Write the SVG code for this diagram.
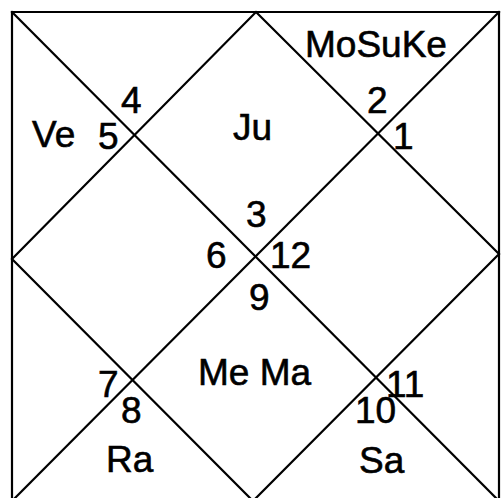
<svg xmlns="http://www.w3.org/2000/svg" width="501" height="498" viewBox="0 0 501 498">
<style>
.ln{stroke:#000;stroke-width:2.2;fill:none;stroke-linecap:square}
text{font-family:"Liberation Sans",Arial,sans-serif;font-size:37px;fill:#000;stroke:#000;stroke-width:0.6}
</style>
<rect width="501" height="498" fill="#fff"/>
<g id="connectors">
<polygon class="ln" points="12,12 499,12 499,501 12,501"/>
<line class="ln" x1="12" y1="12" x2="499" y2="501"/>
<line class="ln" x1="499" y1="12" x2="12" y2="501"/>
<polygon class="ln" points="256,12 499,254 253,501 12,259"/>
</g>
<g id="house1"><text x="393" y="149">1</text></g>
<g id="house2"><text x="367" y="113">2</text><text x="305" y="57">MoSuKe</text></g>
<g id="house3"><text x="246" y="227">3</text><text x="233" y="140">Ju</text></g>
<g id="house4"><text x="121" y="113">4</text></g>
<g id="house5"><text x="98" y="149">5</text><text x="32" y="147">Ve</text></g>
<g id="house6"><text x="206" y="268">6</text></g>
<g id="house7"><text x="98" y="397">7</text></g>
<g id="house8"><text x="121" y="423">8</text><text x="106" y="472">Ra</text></g>
<g id="house9"><text x="249" y="310">9</text><text x="198" y="385">Me Ma</text></g>
<g id="house10"><text x="355" y="423">10</text><text x="359" y="473">Sa</text></g>
<g id="house11"><text x="386" y="397">11</text></g>
<g id="house12"><text x="270" y="268">12</text></g>
</svg>
